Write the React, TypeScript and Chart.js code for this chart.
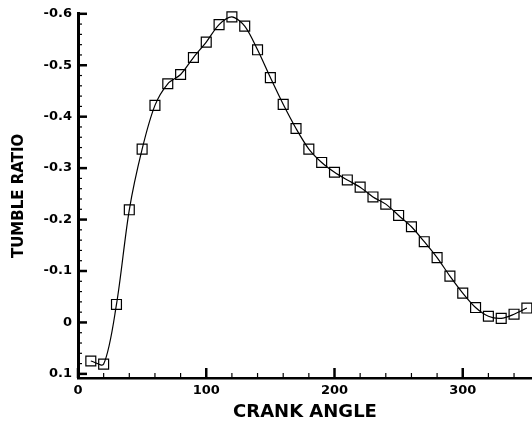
import React, { useEffect, useRef } from "react";
import { Chart, registerables } from "chart.js";

Chart.register(...registerables);

const crankAngle = [10, 20, 30, 40, 50, 60, 70, 80, 90, 100, 110, 120, 130, 140, 150, 160, 170, 180, 190, 200, 210, 220, 230, 240, 250, 260, 270, 280, 290, 300, 310, 320, 330, 340, 350];
const tumbleRatio = [0.075, 0.081, -0.035, -0.219, -0.337, -0.422, -0.464, -0.482, -0.515, -0.545, -0.579, -0.594, -0.576, -0.53, -0.476, -0.424, -0.377, -0.337, -0.311, -0.292, -0.277, -0.263, -0.244, -0.23, -0.208, -0.186, -0.157, -0.126, -0.09, -0.057, -0.029, -0.012, -0.008, -0.016, -0.028];

const xMajorTicks = [0, 100, 200, 300];
const xMinorTicks = [20, 40, 60, 80, 120, 140, 160, 180, 220, 240, 260, 280, 320, 340];
const yMajorTicks = [-0.6, -0.5, -0.4, -0.3, -0.2, -0.1, 0, 0.1];
const yTickLabels = ["-0.6", "-0.5", "-0.4", "-0.3", "-0.2", "-0.1", "0", "0.1"];

const FONT = "'DejaVu Sans', sans-serif";

const innerTicks = {
  id: "innerTicks",
  afterDraw(chart: any) {
    const { ctx, chartArea, scales } = chart;
    const x = scales.x;
    const y = scales.y;
    ctx.save();
    ctx.strokeStyle = "#000";
    const seg = (x1: number, y1: number, x2: number, y2: number, w: number) => {
      ctx.lineWidth = w;
      ctx.beginPath();
      ctx.moveTo(x1, y1);
      ctx.lineTo(x2, y2);
      ctx.stroke();
    };
    xMajorTicks.forEach((v) => {
      const px = x.getPixelForValue(v);
      seg(px, chartArea.bottom, px, chartArea.bottom - 10, 2.5);
    });
    xMinorTicks.forEach((v) => {
      const px = x.getPixelForValue(v);
      seg(px, chartArea.bottom, px, chartArea.bottom - 5, 1.2);
    });
    yMajorTicks.forEach((v, i) => {
      const py = y.getPixelForValue(v);
      seg(chartArea.left, py, chartArea.left + 9, py, 2.5);
      if (i < yMajorTicks.length - 1) {
        const next = yMajorTicks[i + 1];
        for (let k = 1; k < 5; k++) {
          const mv = v + ((next - v) * k) / 5;
          const mp = y.getPixelForValue(mv);
          seg(chartArea.left, mp, chartArea.left + 4, mp, 1.2);
        }
      }
    });
    ctx.restore();
  },
};

export default function App() {
  const ref = useRef<HTMLCanvasElement>(null);
  useEffect(() => {
    if (!ref.current) return;
    const chart = new Chart(ref.current, {
      type: "line",
      data: {
        datasets: [
          {
            data: crankAngle.map((a, i) => ({ x: a, y: tumbleRatio[i] })),
            borderColor: "#000",
            borderWidth: 1.2,
            backgroundColor: "rgba(0,0,0,0)",
            pointStyle: "rect",
            pointRadius: 7,
            pointBorderWidth: 1.2,
            pointBorderColor: "#000",
            pointBackgroundColor: "rgba(0,0,0,0)",
            tension: 0.3,
            fill: false,
            clip: false,
          },
        ],
      },
      options: {
        responsive: false,
        animation: false,
        layout: { autoPadding: false, padding: { top: 12, left: 0, right: 0, bottom: 0 } },
        plugins: { legend: { display: false }, tooltip: { enabled: false } },
        scales: {
          x: {
            type: "linear",
            min: 0,
            max: 354,
            afterBuildTicks: (s: any) => {
              s.ticks = xMajorTicks.map((v) => ({ value: v }));
            },
            afterFit: (s: any) => {
              s.height = 49;
              s.paddingRight = 0;
              s.paddingLeft = 0;
            },
            grid: { display: false, drawTicks: false },
            border: { display: true, color: "#000", width: 2.5 },
            ticks: {
              color: "#000",
              padding: 5,
              maxRotation: 0,
              font: { family: FONT, size: 13, weight: "bold" },
            },
            title: {
              display: true,
              text: "CRANK ANGLE",
              color: "#000",
              padding: { top: 0, bottom: 4 },
              font: { family: FONT, size: 18, weight: "bold" },
            },
          },
          y: {
            type: "linear",
            reverse: true,
            min: -0.6,
            max: 0.108,
            afterBuildTicks: (s: any) => {
              s.ticks = yMajorTicks.map((v) => ({ value: v }));
            },
            afterFit: (s: any) => {
              s.width = 78;
            },
            grid: { display: false, drawTicks: false },
            border: { display: true, color: "#000", width: 3 },
            ticks: {
              color: "#000",
              padding: 6,
              font: { family: FONT, size: 13, weight: "bold" },
              callback: (v: any) => {
                const i = yMajorTicks.findIndex((t) => Math.abs(t - Number(v)) < 1e-9);
                return i >= 0 ? yTickLabels[i] : "";
              },
            },
            title: {
              display: true,
              text: "TUMBLE RATIO",
              color: "#000",
              padding: { top: 10, bottom: 0 },
              font: { family: FONT, size: 15, weight: "bold" },
            },
          },
        },
      },
      plugins: [innerTicks],
    });
    return () => chart.destroy();
  }, []);
  return (
    <div style={{ position: "fixed", left: 0, top: 0, background: "#fff" }}>
      <canvas ref={ref} width={532} height={427} style={{ display: "block" }} />
    </div>
  );
}
